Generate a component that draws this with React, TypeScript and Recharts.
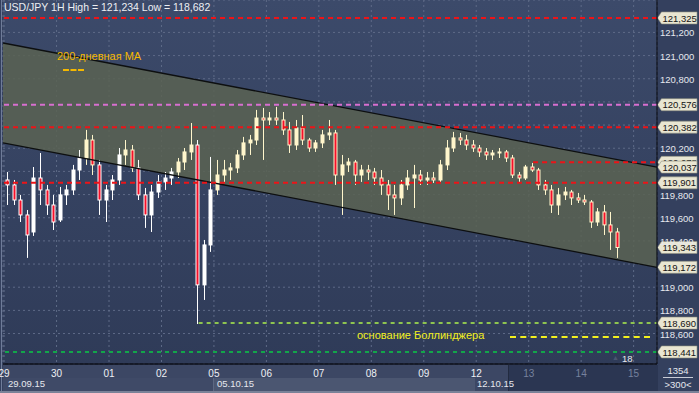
import React from 'react';
import {
  ComposedChart,
  Bar,
  Area,
  Line,
  XAxis,
  YAxis,
  CartesianGrid,
  ReferenceLine,
} from 'recharts';

const FONT = '"Liberation Sans", Arial, sans-serif';

const dayLabels = ['29', '30', '01', '02', '05', '06', '07', '08', '09', '12', '13', '14', '15'];
const dayStarts = [0, 24, 48, 72, 96, 120, 144, 168, 192, 216, 240, 264, 288];
const priceTicks = [118.6, 118.8, 119.0, 119.2, 119.4, 119.6, 119.8, 120.0, 120.2, 120.4, 120.6, 120.8, 121.0, 121.2];

// 3-hour candles, first one starts 29.09 00:00
const opens = [
  119.926, 119.883, 119.753, 119.624, 119.477, 119.943, 119.840, 119.710,
  119.581, 119.797, 119.840, 120.012, 120.116, 120.271, 120.056, 119.753,
  119.840, 119.926, 120.142, 120.185, 120.030, 119.797, 119.624, 119.822,
  119.909, 119.943, 119.995, 120.081, 120.168, 120.228, 119.020, 119.365,
  119.840, 119.969, 120.012, 120.030, 120.142, 120.246, 120.271, 120.461,
  120.444, 120.461, 120.444, 120.358, 120.228, 120.375, 120.271, 120.202,
  120.246, 120.315, 120.332, 119.969, 120.056, 120.081, 119.969, 120.012,
  119.995, 119.943, 119.883, 119.797, 119.771, 119.883, 119.943, 119.969,
  119.926, 119.943, 119.926, 120.056, 120.202, 120.289, 120.271, 120.228,
  120.202, 120.168, 120.142, 120.159, 120.168, 120.116, 119.969, 119.943,
  120.038, 120.012, 119.883, 119.840, 119.710, 119.797, 119.822, 119.771,
  119.753, 119.736, 119.563, 119.650, 119.538, 119.477,
];
const highs = [
  119.995, 119.926, 119.797, 119.667, 120.038, 120.159, 119.883, 119.797,
  119.866, 119.883, 120.056, 120.185, 120.358, 120.315, 120.099, 119.883,
  119.969, 120.202, 120.271, 120.228, 120.099, 119.857, 119.883, 119.969,
  119.995, 120.030, 120.116, 120.202, 120.418, 120.271, 119.408, 120.125,
  120.099, 120.099, 120.073, 120.185, 120.298, 120.315, 120.531, 120.548,
  120.513, 120.557, 120.513, 120.427, 120.444, 120.487, 120.289, 120.271,
  120.358, 120.444, 120.358, 120.142, 120.116, 120.099, 120.056, 120.056,
  120.030, 120.012, 119.926, 119.883, 119.926, 120.012, 120.056, 120.012,
  119.995, 119.995, 120.099, 120.271, 120.341, 120.332, 120.315, 120.271,
  120.228, 120.202, 120.185, 120.202, 120.185, 120.142, 119.995, 120.056,
  120.073, 120.030, 119.926, 119.883, 119.857, 119.866, 119.840, 119.814,
  119.797, 119.753, 119.684, 119.710, 119.650, 119.512,
];
const lows = [
  119.710, 119.710, 119.563, 119.253, 119.443, 119.710, 119.624, 119.494,
  119.563, 119.710, 119.797, 119.926, 120.056, 119.969, 119.624, 119.563,
  119.753, 119.883, 120.056, 119.995, 119.753, 119.512, 119.477, 119.771,
  119.840, 119.883, 119.943, 120.012, 120.099, 118.682, 118.890, 119.305,
  119.797, 119.900, 119.926, 119.986, 120.099, 120.142, 120.228, 120.099,
  120.401, 120.401, 120.315, 120.159, 120.185, 120.228, 120.168, 120.168,
  120.202, 120.271, 119.883, 119.624, 119.995, 119.883, 119.909, 119.926,
  119.883, 119.797, 119.667, 119.624, 119.710, 119.840, 119.684, 119.883,
  119.883, 119.900, 119.909, 120.012, 120.168, 120.228, 120.185, 120.168,
  120.125, 120.099, 120.099, 120.116, 120.081, 119.943, 119.909, 119.926,
  119.995, 119.840, 119.797, 119.641, 119.624, 119.753, 119.710, 119.727,
  119.710, 119.512, 119.529, 119.451, 119.322, 119.253,
];
const closes = [
  119.883, 119.753, 119.624, 119.451, 119.943, 119.840, 119.710, 119.563,
  119.797, 119.840, 120.012, 120.116, 120.271, 120.056, 119.753, 119.840,
  119.926, 120.142, 120.185, 120.030, 119.797, 119.624, 119.822, 119.909,
  119.943, 119.995, 120.081, 120.168, 120.228, 119.020, 119.365, 119.840,
  119.969, 120.012, 120.030, 120.142, 120.246, 120.271, 120.461, 120.444,
  120.461, 120.444, 120.358, 120.228, 120.375, 120.271, 120.202, 120.246,
  120.315, 120.332, 119.969, 120.056, 120.081, 119.969, 120.012, 119.995,
  119.943, 119.883, 119.797, 119.771, 119.883, 119.943, 119.969, 119.926,
  119.943, 119.926, 120.056, 120.202, 120.289, 120.271, 120.228, 120.202,
  120.168, 120.142, 120.159, 120.168, 120.116, 119.969, 119.943, 120.038,
  120.012, 119.883, 119.840, 119.710, 119.797, 119.822, 119.771, 119.753,
  119.736, 119.563, 119.650, 119.538, 119.477, 119.343,
];

// regression channel (ends of the two parallel lines)
const channelHours = [-0.5, 298.7];
const channelUpper = [121.109, 120.037];
const channelLower = [120.246, 119.172];

// horizontal levels
const redLevels = [121.325, 120.382, 119.901];
const pinkLevel = 120.576;
const shortRedLevel = 120.078;
const shortRedFrom = 242;
const bollingerLevel = 118.69;
const bollingerFrom = 89;
const greenLevel = 118.441;
const tagPrices = [121.325, 120.576, 120.382, 120.078, 120.037, 119.901, 119.343, 119.172, 118.69, 118.441];

const X_MIN = -0.5;
const X_MAX = 298.7;
const Y_MIN = 118.337;
const Y_MAX = 121.48;

const candles = opens.map((o, i) => ({
  t: i * 3 + 1.5,
  open: o,
  high: highs[i],
  low: lows[i],
  close: closes[i],
}));

const channel = channelHours.map((t, i) => ({
  t,
  upper: channelUpper[i],
  lower: channelLower[i],
  band: [channelLower[i], channelUpper[i]],
}));

const fmt = (v: number) => v.toFixed(3).replace('.', ',');

const channelAt = (t: number, arr: number[]) => {
  const f = (t - channelHours[0]) / (channelHours[1] - channelHours[0]);
  return arr[0] + (arr[1] - arr[0]) * f;
};

const Candle = (props: any) => {
  const { x, y, width, height, payload } = props;
  if (!payload || height == null || isNaN(y)) return null;
  const top = Math.min(y, y + height);
  const h = Math.abs(height);
  const span = payload.high - payload.low;
  const k = span > 0 ? h / span : 0;
  const py = (p: number) => top + (payload.high - p) * k;
  const cx = Math.round(x + width / 2) + 0.5;
  const bodyTop = py(Math.max(payload.open, payload.close));
  const bodyBot = py(Math.min(payload.open, payload.close));
  const mid = (payload.high + payload.low) / 2;
  const inside = mid < channelAt(payload.t, channelUpper) && mid > channelAt(payload.t, channelLower);
  const light = inside ? '#fff6cc' : '#ffffff';
  const bear = payload.close < payload.open;
  return (
    <g>
      <line x1={cx} x2={cx} y1={top} y2={top + h} stroke={light} strokeWidth={1} />
      <rect
        x={cx - 1.5}
        y={bodyTop}
        width={3}
        height={Math.max(1, bodyBot - bodyTop)}
        fill={bear ? '#f5102a' : light}
        stroke={light}
        strokeWidth={1}
      />
    </g>
  );
};

const DayTick = (props: any) => {
  const { x, y, payload } = props;
  const i = dayStarts.indexOf(payload.value);
  return (
    <text x={x} y={y + 11} textAnchor="middle" fontSize={10} fontFamily={FONT} fill={i >= 10 ? '#76829e' : '#eef0f4'}>
      {dayLabels[i]}
    </text>
  );
};

// tick labels that sit under a price tag are covered in the original
const isCovered = (v: number) => tagPrices.some((p) => Math.abs(p - v) < 0.05);

const PriceTick = (props: any) => {
  const { x, y, payload } = props;
  if (isCovered(payload.value)) return null;
  return (
    <text x={x + 1} y={y + 4} textAnchor="start" fontSize={9.5} fontFamily={FONT} fill="#e6e8ee">
      {fmt(payload.value)}
    </text>
  );
};

const PriceTag = (props: any) => {
  const { viewBox, text } = props;
  if (!viewBox) return null;
  const rx = viewBox.x + viewBox.width;
  const y = viewBox.y;
  const pts = `${rx + 0.5},${y} ${rx + 4.5},${y - 6} ${rx + 40},${y - 6} ${rx + 40},${y + 6} ${rx + 4.5},${y + 6}`;
  return (
    <g>
      <polygon points={pts} fill="#e9e6d2" stroke="#8f907f" strokeWidth={0.6} />
      <text x={rx + 5.5} y={y + 3.6} fontSize={9.5} fontFamily={FONT} fill="#141414">
        {text}
      </text>
    </g>
  );
};

const abs = (s: React.CSSProperties): React.CSSProperties => ({ position: 'absolute', ...s });

const App: React.FC = () => {
  return (
    <div style={{ position: 'fixed', left: 0, top: 0, width: 699, height: 393, background: '#34405e', overflow: 'hidden', fontFamily: FONT }}>
      {/* backgrounds */}
      <div style={abs({ left: 1, top: 0, width: 1, height: 393, background: '#6f7c99' })} />
      <div style={abs({ left: 3, top: 0, width: 654, height: 364, background: 'linear-gradient(#3c4a6a, #2f3b58)' })} />
      <div style={abs({ left: 3, top: 365, width: 654, height: 14, background: '#3c4764' })} />
      <div style={abs({ left: 3, top: 378, width: 210, height: 13, background: '#3f4a67' })} />
      <div style={abs({ left: 213, top: 378, width: 262, height: 13, background: '#4b5671', borderLeft: '1px solid #5d6882' })} />
      <div style={abs({ left: 475, top: 378, width: 33, height: 13, background: '#3c4764' })} />
      <div style={abs({ left: 508, top: 365, width: 149, height: 26, background: '#2b3652', borderLeft: '1px solid #222b40' })} />
      <div style={abs({ left: 0, top: 391, width: 699, height: 2, background: '#7a8298' })} />

      <div style={abs({ left: 0, top: 0 })}>
        <ComposedChart width={699} height={393} data={candles} margin={{ top: 0, right: 0, bottom: 15, left: 3 }}>
          <CartesianGrid stroke="#5e6a87" strokeDasharray="2 3" />
          <XAxis
            dataKey="t"
            type="number"
            domain={[X_MIN, X_MAX]}
            ticks={dayStarts}
            interval={0}
            allowDataOverflow
            height={14}
            tickLine={false}
            tickSize={0}
            axisLine={{ stroke: '#0c0f18', strokeWidth: 1.5 }}
            tick={<DayTick />}
          />
          <YAxis
            orientation="right"
            type="number"
            domain={[Y_MIN, Y_MAX]}
            ticks={priceTicks}
            interval={0}
            allowDataOverflow
            width={42}
            tickLine={false}
            tickSize={0}
            axisLine={{ stroke: '#0c0f18', strokeWidth: 1.2 }}
            tick={<PriceTick />}
          />
          <Area data={channel} dataKey="band" type="linear" stroke="none" fill="#5b6352" fillOpacity={0.85} isAnimationActive={false} />
          <Line data={channel} dataKey="upper" type="linear" stroke="#0d0f10" strokeWidth={1.3} dot={false} isAnimationActive={false} />
          <Line data={channel} dataKey="lower" type="linear" stroke="#0d0f10" strokeWidth={1.3} dot={false} isAnimationActive={false} />

          <Bar dataKey={(d: any) => [d.low, d.high]} barSize={4} shape={<Candle />} isAnimationActive={false} />

          {redLevels.map((p) => (
            <ReferenceLine key={p} y={p} stroke="#ec1418" strokeWidth={2} strokeDasharray="5 4" />
          ))}
          <ReferenceLine y={pinkLevel} stroke="#d86fd0" strokeWidth={2} strokeDasharray="5 4" />
          <ReferenceLine
            segment={[{ x: shortRedFrom, y: shortRedLevel }, { x: X_MAX, y: shortRedLevel }]}
            stroke="#ec1418"
            strokeWidth={2}
            strokeDasharray="5 4"
          />
          <ReferenceLine
            segment={[{ x: bollingerFrom, y: bollingerLevel }, { x: X_MAX, y: bollingerLevel }]}
            stroke="#8ec450"
            strokeWidth={2}
            strokeDasharray="4 4"
          />
          <ReferenceLine y={greenLevel} stroke="#12a64a" strokeWidth={2} strokeDasharray="4 4" />

          {tagPrices.map((p) => (
            <ReferenceLine key={'tag' + p} y={p} stroke="none" label={<PriceTag text={fmt(p)} />} />
          ))}
        </ComposedChart>
      </div>

      {/* texts and legend samples */}
      <div style={abs({ left: 4, top: 1, fontSize: 10.5, color: '#eceef2', whiteSpace: 'nowrap' })}>
        USD/JPY 1H High = 121,234 Low = 118,682
      </div>
      <div style={abs({ left: 57, top: 50, fontSize: 11, color: '#f5b800', whiteSpace: 'nowrap' })}>200-дневная МА</div>
      <div style={abs({ left: 63, top: 69, width: 21, borderTop: '2px dashed #f5b800' })} />
      <div style={abs({ left: 357, top: 329, fontSize: 11, color: '#f2f01e', whiteSpace: 'nowrap' })}>основание Боллинджера</div>
      <div style={abs({ left: 510, top: 336, width: 140, borderTop: '2px dashed #f2f01e' })} />
      <div style={abs({ left: 612, top: 354, fontSize: 7, color: '#4b5570' })}>▲</div>
      <div style={abs({ left: 622, top: 353, fontSize: 9.5, color: '#e8e8ee' })}>18</div>

      <div style={abs({ left: 8, top: 378, fontSize: 9.5, color: '#e6e8ee' })}>29.09.15</div>
      <div style={abs({ left: 217, top: 378, fontSize: 9.5, color: '#e6e8ee' })}>05.10.15</div>
      <div style={abs({ left: 477, top: 378, fontSize: 9.5, color: '#e6e8ee' })}>12.10.15</div>

      <div style={abs({ left: 657, top: 364, width: 42, textAlign: 'center', fontSize: 9.5, color: '#e6e8ee', lineHeight: '11px' })}>
        <div style={{ borderBottom: '1px solid #c8ccd6', margin: '1px 6px 1px 6px', paddingBottom: 1 }}>1354</div>
        <div>&gt;300&lt;</div>
      </div>
    </div>
  );
};

export default App;
